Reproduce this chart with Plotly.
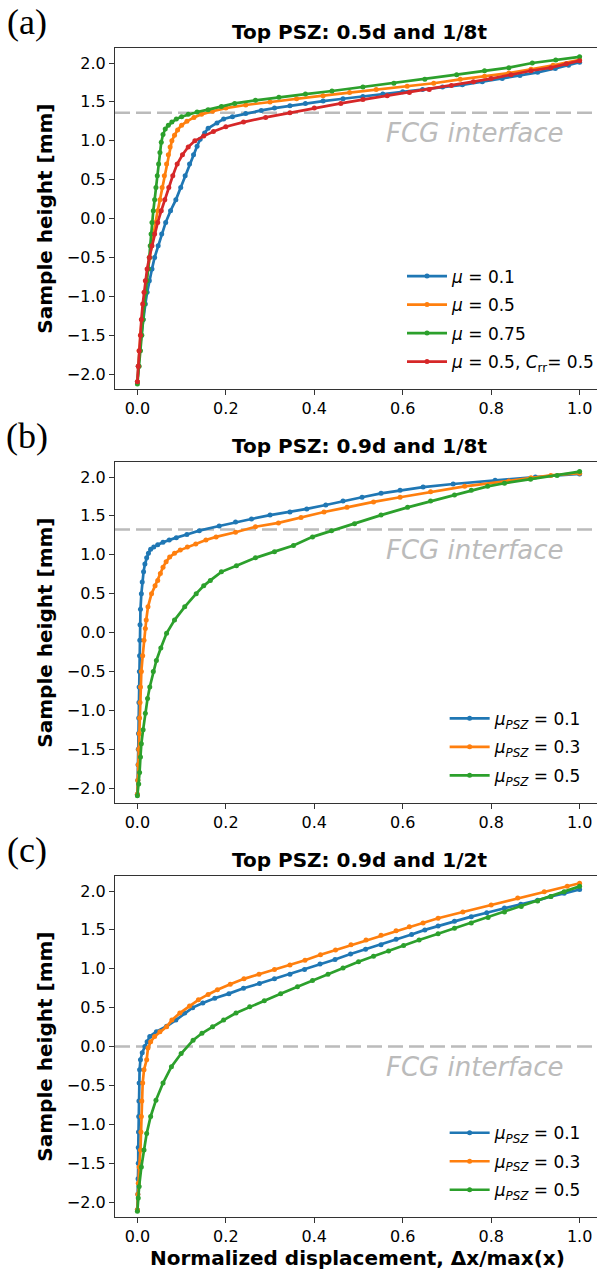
import plotly.graph_objects as go

# ---------------- data ----------------
# Panel (a): Top PSZ 0.5d and 1/8t
A_BLUE_X = [0, .002, .005, .009, .013, .018, .022, .027, .033, .039, .047, .055, .064, .075, .087, .098, .108, .118, .127, .135,
            .142, .152, .160, .180, .195, .215, .245, .280, .310, .345, .380, .420, .465, .510, .555, .600, .645, .690, .735, .780,
            .825, .865, .905, .945, .975, 1.0]
A_BLUE_Y = [-2.10, -1.90, -1.70, -1.50, -1.30, -1.10, -0.95, -0.80, -0.65, -0.50, -0.35, -0.20, -0.05, 0.10, 0.24, 0.40, 0.55, 0.70, 0.82, 0.93,
            1.02, 1.10, 1.16, 1.23, 1.28, 1.31, 1.35, 1.39, 1.42, 1.45, 1.48, 1.51, 1.54, 1.57, 1.60, 1.63, 1.66, 1.69, 1.72, 1.76,
            1.80, 1.84, 1.88, 1.93, 1.97, 2.01]
A_ORANGE_X = [0, .002, .004, .007, .010, .014, .017, .020, .024, .028, .032, .036, .041, .046, .051, .056, .061, .066, .070, .074,
              .078, .084, .091, .100, .112, .128, .145, .170, .200, .245, .300, .360, .420, .480, .540, .610, .670, .730, .785, .840,
              .890, .940, 1.0]
A_ORANGE_Y = [-2.10, -1.90, -1.70, -1.50, -1.30, -1.10, -0.95, -0.80, -0.65, -0.50, -0.35, -0.20, -0.05, 0.10, 0.24, 0.40, 0.55, 0.70, 0.82, 0.92,
              1.00, 1.07, 1.14, 1.20, 1.25, 1.30, 1.34, 1.38, 1.42, 1.46, 1.50, 1.54, 1.58, 1.62, 1.66, 1.70, 1.74, 1.79, 1.83, 1.87,
              1.92, 1.97, 2.04]
A_GREEN_X = [0, .004, .007, .010, .013, .016, .019, .022, .025, .027, .029, .031, .033, .036, .039, .042, .045, .048, .051, .054,
             .058, .063, .070, .078, .088, .100, .115, .135, .160, .190, .220, .267, .320, .380, .440, .510, .580, .650, .722, .785,
             .840, .893, .946, 1.0]
A_GREEN_Y = [-2.13, -1.90, -1.70, -1.50, -1.30, -1.10, -0.95, -0.80, -0.65, -0.50, -0.35, -0.20, -0.05, 0.10, 0.24, 0.40, 0.55, 0.70, 0.85, 0.98,
             1.08, 1.15, 1.20, 1.24, 1.28, 1.31, 1.34, 1.37, 1.40, 1.44, 1.48, 1.52, 1.56, 1.60, 1.64, 1.69, 1.74, 1.79, 1.85, 1.90,
             1.94, 2.00, 2.04, 2.08]
A_RED_X = [0, .002, .004, .007, .009, .012, .015, .018, .022, .027, .033, .039, .046, .054, .062, .071, .080, .090, .102, .115,
           .130, .150, .172, .200, .240, .290, .345, .400, .460, .510, .565, .615, .660, .710, .760, .800, .845, .890, .935, .970,
           1.0]
A_RED_Y = [-2.10, -1.90, -1.70, -1.50, -1.30, -1.10, -0.95, -0.80, -0.65, -0.50, -0.35, -0.20, -0.05, 0.10, 0.24, 0.40, 0.55, 0.70, 0.82, 0.92,
           1.00, 1.06, 1.12, 1.18, 1.24, 1.30, 1.36, 1.42, 1.48, 1.53, 1.58, 1.62, 1.66, 1.71, 1.76, 1.80, 1.85, 1.90, 1.94, 1.99,
           2.03]

# Panel (b): Top PSZ 0.9d and 1/8t
B_BLUE_X = [0, .001, .0015, .002, .0025, .003, .0035, .004, .0045, .005, .0055, .006, .007, .009, .011, .014, .017, .021, .025, .030,
            .037, .046, .058, .072, .088, .112, .140, .185, .222, .258, .300, .345, .383, .426, .465, .508, .551, .594, .646, .714,
            .809, .900, 1.0]
B_BLUE_Y = [-2.08, -1.90, -1.70, -1.50, -1.30, -1.10, -0.90, -0.70, -0.50, -0.30, -0.10, 0.10, 0.30, 0.50, 0.65, 0.78, 0.88, 0.96, 1.02, 1.07,
            1.10, 1.13, 1.16, 1.19, 1.22, 1.26, 1.31, 1.37, 1.42, 1.46, 1.51, 1.55, 1.59, 1.64, 1.69, 1.74, 1.79, 1.83, 1.87, 1.91,
            1.96, 2.00, 2.04]
B_ORANGE_X = [0, .001, .002, .003, .004, .005, .006, .007, .009, .012, .015, .018, .020, .024, .032, .040, .046, .052, .058, .065,
              .073, .084, .097, .113, .132, .155, .178, .222, .267, .319, .370, .422, .474, .534, .594, .663, .740, .840, .890, .935,
              1.0]
B_ORANGE_Y = [-2.08, -1.90, -1.70, -1.50, -1.30, -1.10, -0.90, -0.70, -0.50, -0.30, -0.10, 0.05, 0.16, 0.33, 0.50, 0.60, 0.67, 0.76, 0.84, 0.91,
              0.97, 1.02, 1.06, 1.10, 1.14, 1.19, 1.23, 1.29, 1.36, 1.41, 1.48, 1.55, 1.61, 1.68, 1.74, 1.81, 1.88, 1.95, 1.99, 2.02,
              2.05]
B_GREEN_X = [0, .003, .005, .007, .009, .013, .018, .023, .028, .036, .043, .053, .066, .084, .107, .133, .150, .165, .190, .224,
             .267, .310, .353, .396, .439, .491, .551, .611, .663, .717, .755, .792, .830, .889, .949, 1.0]
B_GREEN_Y = [-2.10, -1.95, -1.80, -1.60, -1.43, -1.25, -1.04, -0.85, -0.70, -0.50, -0.36, -0.20, -0.01, 0.16, 0.33, 0.50, 0.60, 0.67, 0.78, 0.86,
             0.96, 1.04, 1.12, 1.23, 1.31, 1.40, 1.51, 1.61, 1.69, 1.77, 1.83, 1.88, 1.92, 1.97, 2.02, 2.07]

# Panel (c): Top PSZ 0.9d and 1/2t
C_BLUE_X = [0, .001, .0015, .002, .002, .0025, .003, .0035, .004, .005, .007, .011, .017, .022, .028, .043, .066, .087, .107, .125,
            .148, .175, .207, .240, .276, .310, .345, .378, .413, .447, .482, .516, .551, .585, .620, .650, .680, .717, .755, .790,
            .830, .867, .905, .935, .965, 1.0]
C_BLUE_Y = [-2.10, -1.90, -1.70, -1.50, -1.30, -1.10, -0.90, -0.70, -0.47, -0.30, -0.17, -0.08, 0.00, 0.06, 0.13, 0.19, 0.26, 0.34, 0.43, 0.50,
            0.56, 0.62, 0.68, 0.75, 0.81, 0.87, 0.93, 0.99, 1.06, 1.12, 1.19, 1.25, 1.31, 1.38, 1.44, 1.50, 1.55, 1.61, 1.67, 1.72,
            1.78, 1.83, 1.88, 1.93, 1.97, 2.02]
C_ORANGE_X = [0, .001, .002, .004, .007, .008, .009, .010, .012, .015, .021, .024, .030, .039, .051, .066, .078, .096, .118, .138,
              .160, .181, .210, .241, .275, .310, .345, .379, .414, .448, .483, .517, .551, .585, .615, .646, .680, .736, .800, .860,
              .920, .972, 1.0]
C_ORANGE_Y = [-2.10, -1.90, -1.76, -1.55, -1.33, -1.10, -0.90, -0.70, -0.47, -0.30, -0.17, -0.02, 0.06, 0.13, 0.19, 0.255, 0.34, 0.43, 0.52, 0.60,
              0.67, 0.73, 0.80, 0.87, 0.93, 0.99, 1.05, 1.11, 1.18, 1.24, 1.31, 1.37, 1.43, 1.49, 1.54, 1.59, 1.65, 1.73, 1.82, 1.91,
              1.99, 2.06, 2.10]
C_GREEN_X = [0, .002, .004, .009, .015, .021, .030, .042, .058, .077, .099, .126, .146, .170, .195, .223, .254, .287, .324, .362,
             .396, .431, .465, .500, .534, .568, .602, .637, .680, .717, .755, .793, .830, .868, .905, .935, .965, 1.0]
C_GREEN_Y = [-2.12, -1.95, -1.80, -1.55, -1.33, -1.12, -0.90, -0.69, -0.47, -0.26, -0.09, 0.08, 0.17, 0.255, 0.34, 0.43, 0.51, 0.59, 0.68, 0.77,
             0.85, 0.93, 1.01, 1.09, 1.16, 1.23, 1.30, 1.37, 1.45, 1.52, 1.59, 1.66, 1.73, 1.80, 1.87, 1.93, 1.99, 2.06]

PANEL_TITLES = ["Top PSZ: 0.5d and 1/8t", "Top PSZ: 0.9d and 1/8t", "Top PSZ: 0.9d and 1/2t"]
PANEL_LETTERS = ["(a)", "(b)", "(c)"]
FCG_HEIGHT = [1.36, 1.325, 0.0]
X_TICKS = [0.0, 0.2, 0.4, 0.6, 0.8, 1.0]
Y_TICKS = [-2.0, -1.5, -1.0, -0.5, 0.0, 0.5, 1.0, 1.5, 2.0]

LABELS_A = ["<i>μ</i> = 0.1", "<i>μ</i> = 0.5", "<i>μ</i> = 0.75", "<i>μ</i> = 0.5, <i>C</i><sub>rr</sub>= 0.5"]
LABELS_BC = ["<i>μ<sub>PSZ</sub></i> = 0.1", "<i>μ<sub>PSZ</sub></i> = 0.3", "<i>μ<sub>PSZ</sub></i> = 0.5"]

COLORS = ["#1f77b4", "#ff7f0e", "#2ca02c", "#d62728"]

# ---------------- layout geometry (pixels) ----------------
W, H = 600, 1271
L = 115
TOPS = [47.7, 461.7, 875.7]
PH = 341.0
LEG_TOPS = [258.5, 700.8, 1115.2]
LEG_LEFTS = [404, 446.7, 446.7]


def px_x(p):
    return (p - L) / (W - L)


def px_y(p):
    return 1 - p / H


fig = go.Figure()

panels = [
    [(A_BLUE_X, A_BLUE_Y), (A_ORANGE_X, A_ORANGE_Y), (A_GREEN_X, A_GREEN_Y), (A_RED_X, A_RED_Y)],
    [(B_BLUE_X, B_BLUE_Y), (B_ORANGE_X, B_ORANGE_Y), (B_GREEN_X, B_GREEN_Y)],
    [(C_BLUE_X, C_BLUE_Y), (C_ORANGE_X, C_ORANGE_Y), (C_GREEN_X, C_GREEN_Y)],
]
labels = [LABELS_A, LABELS_BC, LABELS_BC]
legend_ids = ["legend", "legend2", "legend3"]

for i, series in enumerate(panels):
    xa = "x" if i == 0 else f"x{i+1}"
    ya = "y" if i == 0 else f"y{i+1}"
    for j, (xs, ys) in enumerate(series):
        fig.add_trace(go.Scatter(
            x=xs, y=ys, xaxis=xa, yaxis=ya, mode="lines+markers",
            name=labels[i][j], legend=legend_ids[i], legendgroup=f"p{i}s{j}",
            line=dict(color=COLORS[j], width=2.7),
            marker=dict(color=COLORS[j], size=5, symbol="circle"),
        ))

TICKFONT = dict(family="DejaVu Sans", size=16, color="black")
axis_common = dict(showgrid=False, zeroline=False, showline=True, linecolor="#333333", linewidth=1.2,
                   ticks="outside", ticklen=5, tickwidth=1.2, tickcolor="#333333", tickfont=TICKFONT)

layout = dict(
    width=W, height=H, margin=dict(l=L, r=0, t=0, b=0),
    paper_bgcolor="white", plot_bgcolor="white", showlegend=True,
)

annotations = []
shapes = []
for i in range(3):
    top = TOPS[i]
    bot = top + PH
    sfx = "" if i == 0 else str(i + 1)
    layout[f"xaxis{sfx}"] = dict(
        axis_common, domain=[0, 1], range=[-0.0506, 1.0393], tickvals=X_TICKS,
        ticktext=[f"{v:.1f}" for v in X_TICKS], mirror=True, anchor=f"y{sfx}", automargin=False)
    layout[f"yaxis{sfx}"] = dict(
        axis_common, domain=[px_y(bot), px_y(top)], range=[-2.189, 2.197], tickvals=Y_TICKS,
        ticktext=[f"{v:.1f}".replace("-", "\u2212") for v in Y_TICKS], anchor=f"x{sfx}", automargin=False)
    layout[legend_ids[i]] = dict(
        x=px_x(LEG_LEFTS[i]), y=px_y(LEG_TOPS[i]), xanchor="left", yanchor="top",
        xref="paper", yref="paper",
        font=dict(family="DejaVu Sans", size=17, color="black"),
        bgcolor="rgba(0,0,0,0)", borderwidth=0, itemwidth=40, tracegroupgap=3.4,
    )
    # FCG interface line and label
    shapes.append(dict(type="line", xref=f"x{sfx} domain", yref=f"y{sfx}", x0=0, x1=1,
                       y0=FCG_HEIGHT[i], y1=FCG_HEIGHT[i],
                       line=dict(color="#bbbbbb", width=2.4, dash="15px,6px"), layer="below"))
    annotations.append(dict(text="FCG interface", xref=f"x{sfx}", yref=f"y{sfx}", x=0.968,
                            y=FCG_HEIGHT[i] - 0.26, xanchor="right", yanchor="middle", showarrow=False,
                            font=dict(family="DejaVu Sans", size=26, color="#bbbbbb", style="italic")))
    # panel title
    annotations.append(dict(text=PANEL_TITLES[i], xref="paper", yref="paper", x=px_x(361), y=px_y(top - 15.5),
                            xanchor="center", yanchor="middle", showarrow=False,
                            font=dict(family="DejaVu Sans", size=20, color="black", weight="bold")))
    # panel letter
    annotations.append(dict(text=PANEL_LETTERS[i], xref="paper", yref="paper", x=px_x(26), y=px_y(top - 25.5),
                            xanchor="center", yanchor="middle", showarrow=False,
                            font=dict(family="Liberation Serif", size=36, color="black")))
    # y-axis title
    annotations.append(dict(text="Sample height [mm]", xref="paper", yref="paper", x=px_x(45), y=px_y(top + PH / 2),
                            xanchor="center", yanchor="middle", showarrow=False, textangle=-90,
                            font=dict(family="DejaVu Sans", size=20, color="black", weight="bold")))

annotations.append(dict(text="Normalized displacement, Δx/max(x)", xref="paper", yref="paper",
                        x=px_x(359), y=px_y(1258), xanchor="center", yanchor="middle", showarrow=False,
                        font=dict(family="DejaVu Sans", size=20, color="black", weight="bold")))

layout["annotations"] = annotations
layout["shapes"] = shapes
fig.update_layout(**layout)

fig.write_html("out.html")
